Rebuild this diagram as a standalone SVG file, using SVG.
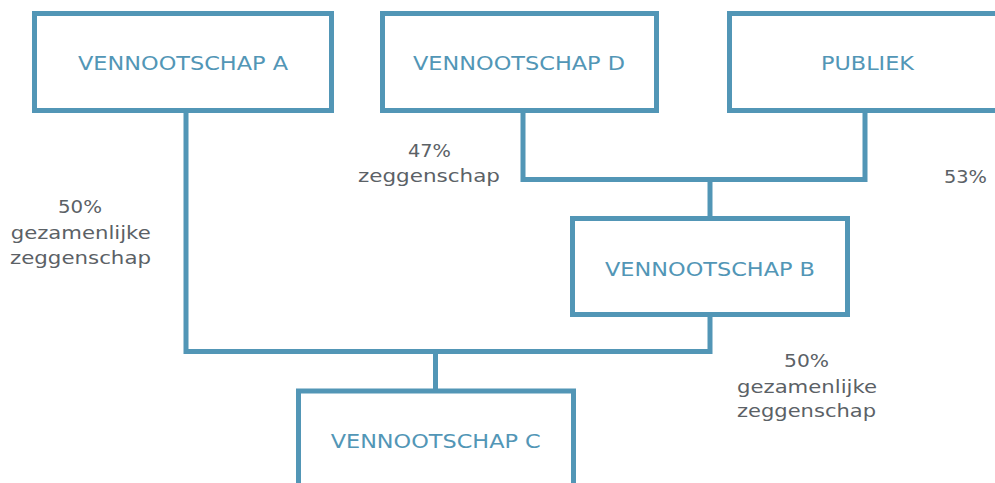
<svg xmlns="http://www.w3.org/2000/svg" width="995" height="483" viewBox="0 0 995 483">
  <style>
    .box { fill: #ffffff; stroke: #5296b6; stroke-width: 5; }
    .wire { fill: none; stroke: #5296b6; stroke-width: 5; stroke-linejoin: miter; stroke-linecap: butt; }
    .name { font-family: "DejaVu Sans", "Liberation Sans", sans-serif; font-size: 19px; fill: #5296b6; text-anchor: middle; }
    .pct { font-family: "DejaVu Sans", "Liberation Sans", sans-serif; font-size: 18px; fill: #5b6166; text-anchor: middle; }
  </style>
  <rect width="995" height="483" fill="#ffffff"/>

  <!-- connectors -->
  <g id="connectors">
    <!-- D and Publiek join into B -->
    <polyline class="wire" points="523,113 523,179.5 865,179.5 865,113"/>
    <line class="wire" x1="710" y1="179.5" x2="710" y2="218"/>
    <!-- A and B join into C -->
    <polyline class="wire" points="186,113 186,351.5 710,351.5 710,317"/>
    <line class="wire" x1="435.5" y1="351.5" x2="435.5" y2="390"/>
  </g>

  <g id="node-a">
    <rect class="box" x="34.5" y="13.5" width="297" height="97"/>
    <text class="name" x="183" y="70" textLength="210" lengthAdjust="spacingAndGlyphs">VENNOOTSCHAP A</text>
  </g>

  <g id="node-d">
    <rect class="box" x="382.5" y="13.5" width="274" height="97"/>
    <text class="name" x="519" y="70" textLength="212" lengthAdjust="spacingAndGlyphs">VENNOOTSCHAP D</text>
  </g>

  <g id="node-publiek">
    <rect class="box" x="729.5" y="13.5" width="290" height="97"/>
    <text class="name" x="867.5" y="70" textLength="93" lengthAdjust="spacingAndGlyphs">PUBLIEK</text>
  </g>

  <g id="node-b">
    <rect class="box" x="572.5" y="218.5" width="275" height="96"/>
    <text class="name" x="710" y="276" textLength="210" lengthAdjust="spacingAndGlyphs">VENNOOTSCHAP B</text>
  </g>

  <g id="node-c">
    <rect class="box" x="298.5" y="391" width="275" height="120"/>
    <text class="name" x="435.7" y="448" textLength="210" lengthAdjust="spacingAndGlyphs">VENNOOTSCHAP C</text>
  </g>

  <!-- ownership labels -->
  <g id="label-a">
    <text class="pct" x="80" y="213" textLength="44" lengthAdjust="spacingAndGlyphs">50%</text>
    <text class="pct" x="80.7" y="239" textLength="140" lengthAdjust="spacingAndGlyphs">gezamenlijke</text>
    <text class="pct" x="80.5" y="264" textLength="141" lengthAdjust="spacingAndGlyphs">zeggenschap</text>
  </g>
  <g id="label-d">
    <text class="pct" x="429.5" y="157" textLength="43" lengthAdjust="spacingAndGlyphs">47%</text>
    <text class="pct" x="429" y="182" textLength="142" lengthAdjust="spacingAndGlyphs">zeggenschap</text>
  </g>
  <g id="label-publiek">
    <text class="pct" x="965.5" y="183" textLength="43" lengthAdjust="spacingAndGlyphs">53%</text>
  </g>
  <g id="label-b">
    <text class="pct" x="806.5" y="367" textLength="45" lengthAdjust="spacingAndGlyphs">50%</text>
    <text class="pct" x="807" y="393" textLength="140" lengthAdjust="spacingAndGlyphs">gezamenlijke</text>
    <text class="pct" x="806.5" y="417" textLength="139" lengthAdjust="spacingAndGlyphs">zeggenschap</text>
  </g>
</svg>
